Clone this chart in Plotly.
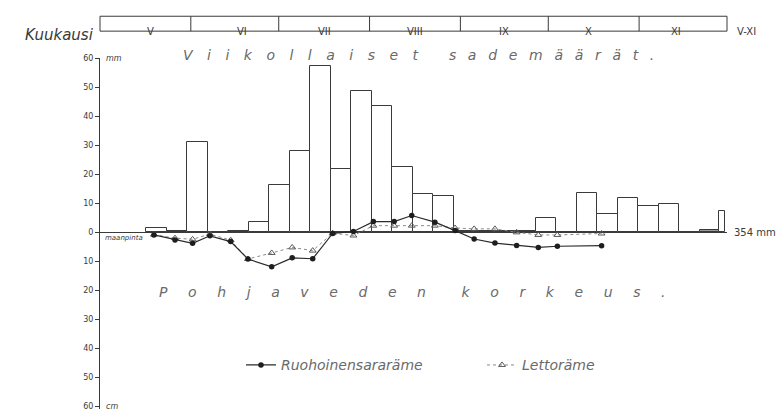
import plotly.graph_objects as go

# ---------------- data ----------------
month_labels = ["V", "VI", "VII", "VIII", "IX", "X", "XI"]
month_days = [31, 30, 31, 31, 30, 31, 30]

# weekly precipitation (mm); x = day counted from 1 May
week_start_day = [15.7, 22.7, 29.7, 36.7, 43.7, 50.7, 57.7, 64.7, 71.7, 78.7,
                  85.7, 92.7, 99.7, 106.7, 113.7, 120.7, 127.7, 134.7, 141.7, 148.7,
                  155.7, 162.7, 169.7, 176.7, 183.7, 190.7, 197.7, 204.7]
week_precip_mm = [1.3, 0.3, 31.0, 0.0, 0.5, 3.6, 16.1, 27.9, 57.2, 21.6,
                  48.7, 43.4, 22.5, 13.1, 12.3, 0.3, 0.3, 0.3, 0.3, 4.8,
                  0.0, 13.4, 6.1, 11.9, 9.0, 9.6, 0.0, 0.8]
week_days = 7

# total V-XI column (drawn at reduced scale)
total_start_day = 211.3
total_days = 2.0
total_bar_value = 7.1
total_label = "354 mm"

# ground-water level (cm, negative = below ground surface)
obs_day = [18.4, 25.6, 31.6, 37.5, 44.6, 50.5, 58.6, 65.6, 72.6, 79.4, 86.5,
           93.3, 100.4, 106.4, 114.3, 121.2, 127.7, 134.8, 142.2, 149.6, 156.1, 171.2]
ruoho_cm = [-1.0, -2.7, -3.9, -1.3, -3.3, -9.3, -12.0, -8.9, -9.2, -0.5, 0.2,
            3.6, 3.6, 5.7, 3.4, 0.5, -2.4, -3.8, -4.6, -5.3, -4.9, -4.7]
letto_cm = [-0.9, -2.1, -2.5, -0.7, -2.8, -9.3, -7.2, -5.3, -6.4, -0.4, -1.2,
            2.2, 2.2, 2.2, 2.2, 1.4, 1.1, 1.1, -0.1, -1.0, -1.0, -0.5]

series_names = ["Ruohoinensararäme", "Lettoräme"]

y_tick_vals = [-60, -50, -40, -30, -20, -10, 0, 10, 20, 30, 40, 50, 60]
y_tick_text = ["60", "50", "40", "30", "20", "10", "0", "10", "20", "30", "40", "50", "60"]

# ---------------- figure ----------------
INK = "#3a3a3a"
PENCIL = "#6a6a6a"
HAND = "DejaVu Sans"

x_total = sum(month_days)
Y_LO, Y_HI = -61, 60
PLOT_TOP, PLOT_BOT = 58, 411          # pixel rows of the plotting area
PLOT_H = PLOT_BOT - PLOT_TOP


def py(px_row):
    """paper y for a pixel row"""
    return (PLOT_BOT - px_row) / PLOT_H


fig = go.Figure()

fig.add_trace(go.Bar(
    x=[s + week_days / 2 for s in week_start_day],
    y=week_precip_mm,
    width=[week_days] * len(week_start_day),
    marker=dict(color=["#ffffff"] * 27 + ["#9a9a9a"], line=dict(color=INK, width=1)),
    showlegend=False, hoverinfo="skip",
))
fig.add_trace(go.Bar(
    x=[total_start_day + total_days / 2],
    y=[total_bar_value],
    width=[total_days],
    marker=dict(color="#ffffff", line=dict(color=INK, width=1)),
    showlegend=False, hoverinfo="skip",
))

fig.add_trace(go.Scatter(
    x=obs_day, y=letto_cm, mode="lines+markers", name=series_names[1],
    line=dict(color="#8a8a8a", width=1, dash="dot"),
    marker=dict(symbol="triangle-up-open", size=6, color="#5a5a5a", line=dict(width=1)),
))
fig.add_trace(go.Scatter(
    x=obs_day, y=ruoho_cm, mode="lines+markers", name=series_names[0],
    line=dict(color="#2a2a2a", width=1.2),
    marker=dict(symbol="circle", size=5.5, color="#1e1e1e"),
))

shapes = []
annotations = []

# month header box
box_y0 = py(31)
box_y1 = py(16)
shapes.append(dict(type="rect", xref="paper", yref="paper", x0=0, x1=1,
                   y0=box_y0, y1=box_y1, line=dict(color=INK, width=1)))
cum = 0
for lab, nd in zip(month_labels, month_days):
    mid = (cum + nd / 2) / x_total
    annotations.append(dict(xref="paper", yref="paper", x=mid, y=(box_y0 + box_y1) / 2,
                            text=lab, showarrow=False, font=dict(family=HAND, size=10, color=INK)))
    cum += nd
    if cum < x_total:
        shapes.append(dict(type="line", xref="paper", yref="paper", x0=cum / x_total,
                           x1=cum / x_total, y0=box_y0, y1=box_y1, line=dict(color=INK, width=1)))

annotations.append(dict(xref="paper", yref="paper", x=-0.006, y=(box_y0 + box_y1) / 2,
                        xanchor="right", text="Kuukausi", showarrow=False,
                        font=dict(family=HAND, size=15, color=INK, style="italic")))
annotations.append(dict(xref="paper", yref="paper", x=1.012, y=(box_y0 + box_y1) / 2,
                        xanchor="left", text="V-XI", showarrow=False,
                        font=dict(family=HAND, size=10, color=INK)))


def spaced(text, sep):
    return sep.join(list(text))


annotations.append(dict(xref="paper", yref="paper", x=(418 - 100) / 627, y=py(45),
                        text=spaced("Viikollaiset", "  \u2009\u2009") + "\u2003\u2003\u2009"
                        + spaced("sademäärät.", "  \u2009"),
                        showarrow=False,
                        font=dict(family=HAND, size=14, color=PENCIL, style="italic")))
annotations.append(dict(xref="paper", yref="paper", x=(412 - 100) / 627, y=py(303),
                        text=spaced("Pohjaveden", "    \u2009") + "        "
                        + spaced("korkeus.", "    \u2009"),
                        showarrow=False,
                        font=dict(family=HAND, size=14, color=PENCIL, style="italic")))

annotations.append(dict(xref="paper", yref="y", x=0.004, y=0, xanchor="left", yanchor="top",
                        text="maanpinta", showarrow=False,
                        font=dict(family=HAND, size=7, color=INK, style="italic")))
annotations.append(dict(xref="paper", yref="y", x=0.006, y=60, xanchor="left", yanchor="middle",
                        text="mm", showarrow=False,
                        font=dict(family=HAND, size=8, color=INK, style="italic")))
annotations.append(dict(xref="paper", yref="y", x=0.006, y=-60, xanchor="left", yanchor="middle",
                        text="cm", showarrow=False,
                        font=dict(family=HAND, size=8, color=INK, style="italic")))
annotations.append(dict(xref="paper", yref="y", x=1.008, y=0, xanchor="left", yanchor="middle",
                        text=total_label, showarrow=False,
                        font=dict(family=HAND, size=10, color=INK)))

fig.update_layout(
    width=778, height=412,
    margin=dict(l=100, r=51, t=PLOT_TOP, b=412 - PLOT_BOT),
    paper_bgcolor="white", plot_bgcolor="white",
    barmode="overlay", bargap=0,
    shapes=shapes, annotations=annotations,
    showlegend=True,
    legend=dict(orientation="h", x=(241 - 100) / 627, y=py(351), yanchor="top",
                xanchor="left", traceorder="reversed", entrywidth=196,
                font=dict(family=HAND, size=14, color=PENCIL, style="italic"),
                bgcolor="rgba(0,0,0,0)"),
)
fig.update_xaxes(range=[0, x_total], showgrid=False, zeroline=False, showline=False,
                 showticklabels=False, ticks="")
fig.update_yaxes(range=[Y_LO, Y_HI], showgrid=False, zeroline=True, zerolinecolor=INK,
                 zerolinewidth=1.2, showline=True, linecolor=INK, linewidth=1,
                 ticks="outside", ticklen=4, tickcolor=INK, tickvals=y_tick_vals,
                 ticktext=y_tick_text, ticklabeloverflow="allow",
                 tickfont=dict(family=HAND, size=8, color=INK))

fig.write_html("out.html", config={"displayModeBar": False},
               post_script="document.body.style.margin='0';")
